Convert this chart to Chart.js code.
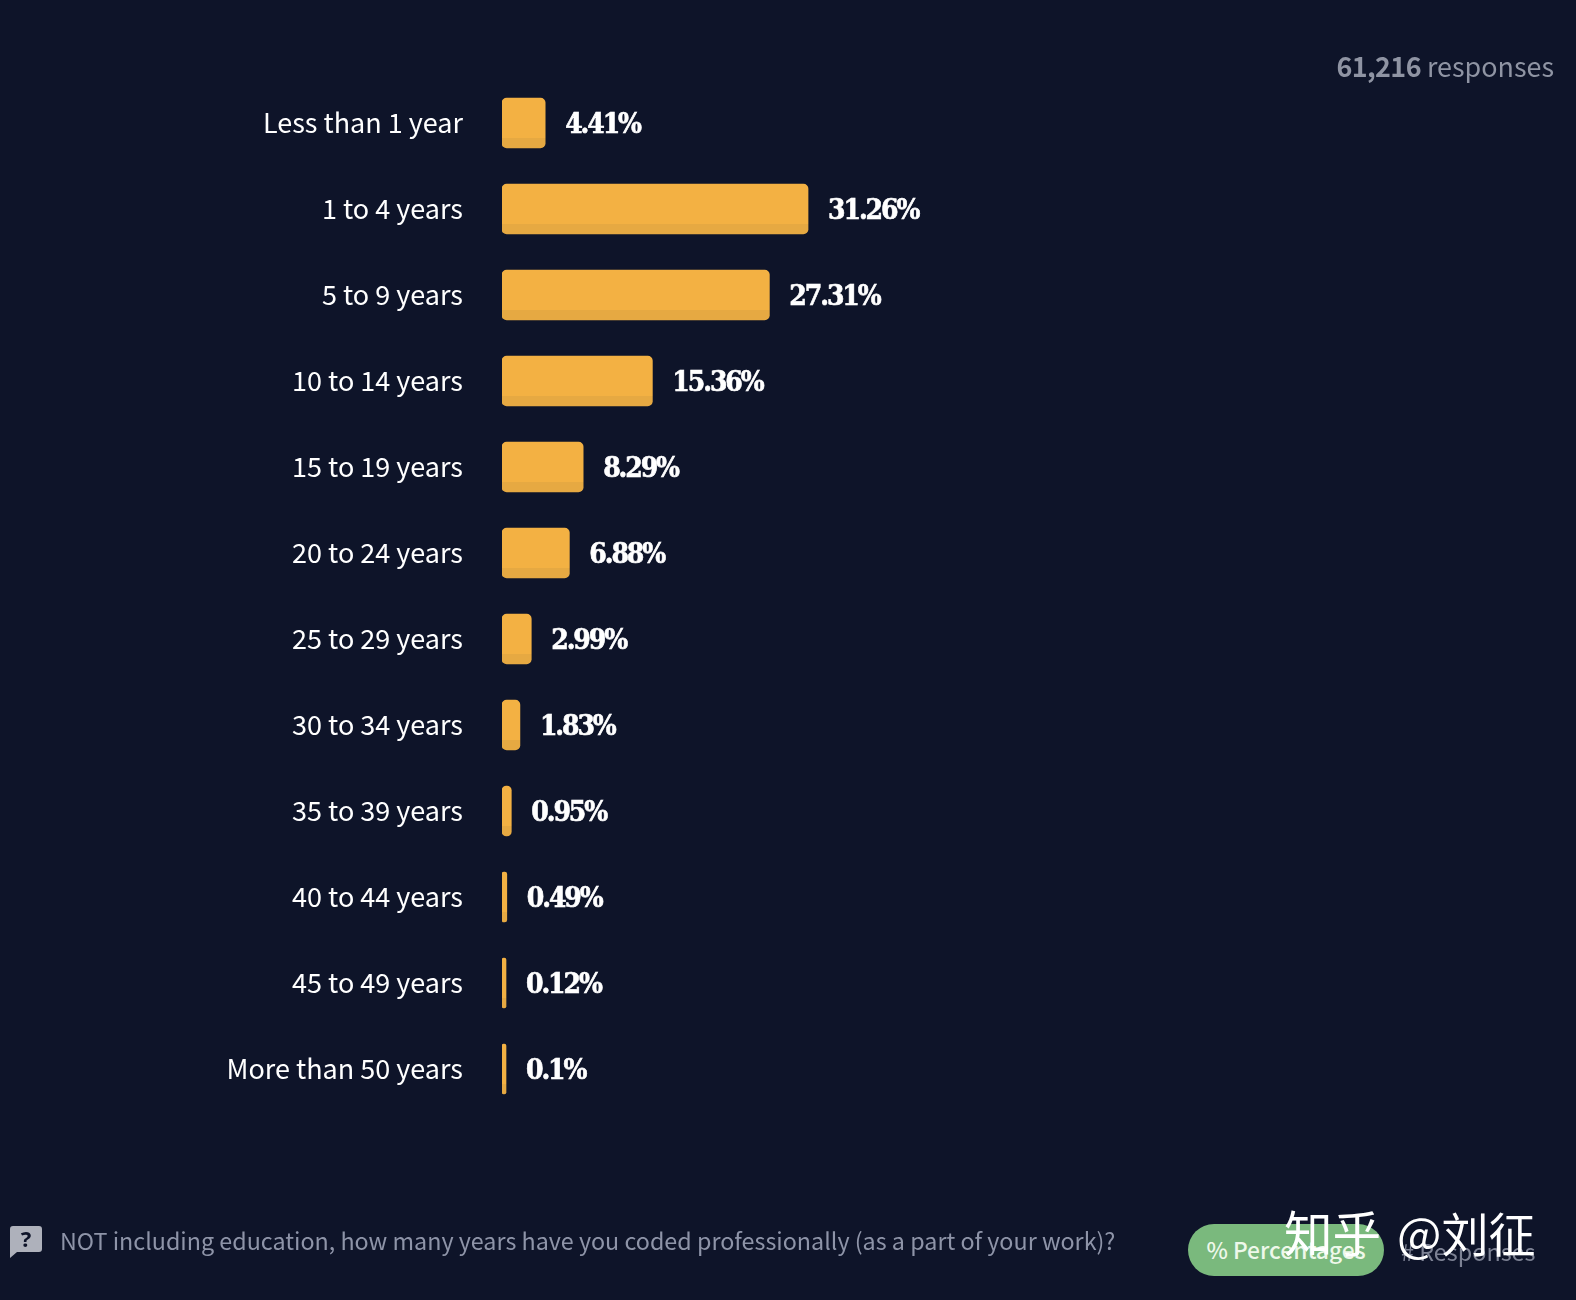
<!DOCTYPE html>
<html>
<head>
<meta charset="utf-8">
<title>Years coded professionally</title>
<script src="https://cdn.jsdelivr.net/npm/chart.js@4"></script>
<style>
    html, body { margin: 0; padding: 0; background: #0e1429; }
    #page { position: relative; width: 1576px; height: 1300px; overflow: hidden; font-family: "Noto Sans CJK SC", "Noto Sans", sans-serif; }
    #graphAnnees { position: absolute; left: 0; top: 0; }
    .txt { position: absolute; white-space: nowrap; }
    #total { right: 22px; top: 46px; font-size: 26.9px; color: #8f94a3; }
    #total b { font-weight: 700; letter-spacing: -0.6px; }
    #question { left: 60px; top: 1223px; font-size: 23.3px; color: #8e94a8; }
    #pill { left: 1188px; top: 1224px; width: 196px; height: 52px; border-radius: 26px; background: #7ab97d; color: #eef8ea; font-size: 22.8px; font-weight: 500; line-height: 52px; text-align: center; }
    #reponses { left: 1401px; top: 1234px; font-size: 23.4px; color: #7d8294; }
    #marque { left: 1284px; top: 1196px; font-size: 48.6px; color: #ffffff; }
    #marque span { font-size: 47px; margin-left: 5px; }
    #icone { position: absolute; left: 10px; top: 1226px; }
</style>
</head>
<body>
<div id="page">
    <canvas id="graphAnnees" width="1576" height="1300"></canvas>
    <div class="txt" id="total"><b>61,216</b> responses</div>
    <svg id="icone" width="32" height="32" viewBox="0 0 32 32">
        <path d="M3 0H29Q32 0 32 3V23Q32 26 29 26H7L0 32V3Q0 0 3 0Z" fill="#aeb1bb"/>
        <text x="16" y="21" text-anchor="middle" font-size="22" font-weight="700" font-family="Noto Sans" fill="#0e1429">?</text>
    </svg>
    <div class="txt" id="question">NOT including education, how many years have you coded professionally (as a part of your work)?</div>
    <div class="txt" id="pill">% Percentages</div>
    <div class="txt" id="reponses"># Responses</div>
    <div class="txt" id="marque">知乎 <span>@刘征</span></div>
</div>

<script>
// Data
var categories = [
    "Less than 1 year", "1 to 4 years", "5 to 9 years", "10 to 14 years",
    "15 to 19 years", "20 to 24 years", "25 to 29 years", "30 to 34 years",
    "35 to 39 years", "40 to 44 years", "45 to 49 years", "More than 50 years"
];
var valeurs = [4.41, 31.26, 27.31, 15.36, 8.29, 6.88, 2.99, 1.83, 0.95, 0.49, 0.12, 0.1];
var etiquettes = ["4.41%", "31.26%", "27.31%", "15.36%", "8.29%", "6.88%", "2.99%", "1.83%", "0.95%", "0.49%", "0.12%", "0.1%"];

// Bar with a darker strip at the bottom
function couleurBarre(context) {
    var chart = context.chart;
    if (context.dataIndex === undefined || !chart.scales.y) return "#f3b143";
    var milieu = chart.scales.y.getPixelForValue(context.dataIndex);
    if (!isFinite(milieu)) return "#f3b143";
    var g = chart.ctx.createLinearGradient(0, milieu - 25, 0, milieu + 25);
    g.addColorStop(0, "#f3b143");
    g.addColorStop(0.8, "#f3b143");
    g.addColorStop(0.8, "#e6a942");
    g.addColorStop(1, "#e6a942");
    return g;
}

// Value labels at the end of each bar
var pluginValeurs = {
    id: "valeurs",
    afterDatasetsDraw: function (chart) {
        var ctx = chart.ctx;
        var meta = chart.getDatasetMeta(0);
        ctx.save();
        ctx.fillStyle = "#ffffff";
        ctx.strokeStyle = "#ffffff";
        ctx.lineWidth = 0.6;
        ctx.font = "bold 28px 'DejaVu Serif Condensed', 'DejaVu Serif', serif";
        ctx.letterSpacing = "-2.1px";
        ctx.textAlign = "left";
        ctx.textBaseline = "middle";
        meta.data.forEach(function (barre, i) {
            ctx.fillText(etiquettes[i], barre.x + 20, barre.y + 3);
            ctx.strokeText(etiquettes[i], barre.x + 20, barre.y + 3);
        });
        ctx.restore();
    }
};

new Chart(document.getElementById("graphAnnees").getContext("2d"), {
    type: "bar",
    data: {
        labels: categories,
        datasets: [{
            data: valeurs,
            backgroundColor: couleurBarre,
            barThickness: 50,
            minBarLength: 4,
            borderRadius: 5,
            borderSkipped: false
        }]
    },
    options: {
        indexAxis: "y",
        responsive: false,
        animation: false,
        layout: { padding: { top: 80, bottom: 188, left: 0, right: 95 } },
        plugins: { legend: { display: false }, tooltip: { enabled: false } },
        scales: {
            x: { min: 0, max: 100, display: false },
            y: {
                afterFit: function (scale) { scale.width = 502; },
                grid: { display: false },
                border: { display: false },
                ticks: {
                    color: "#ffffff",
                    padding: 31,
                    font: { family: "'Noto Sans CJK SC'", size: 27 }
                }
            }
        }
    },
    plugins: [pluginValeurs]
});
</script>
</body>
</html>
